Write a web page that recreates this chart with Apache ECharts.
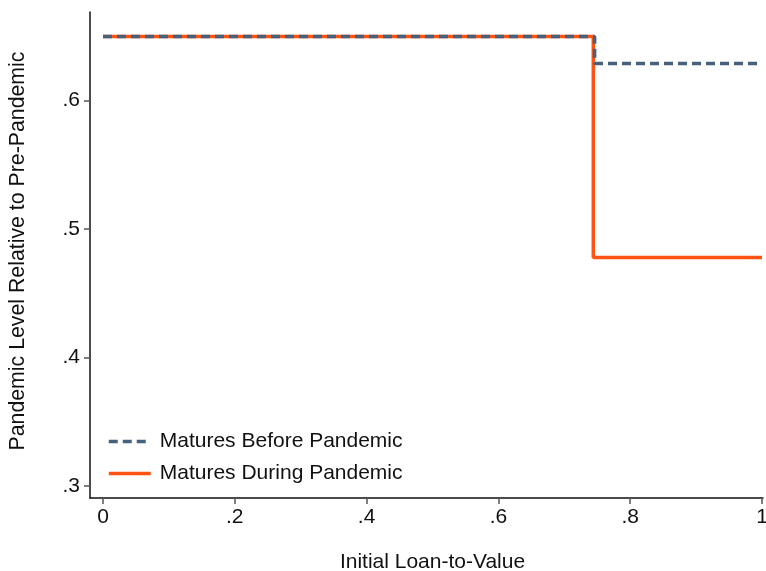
<!DOCTYPE html>
<html>
<head>
<meta charset="utf-8">
<script src="https://cdn.jsdelivr.net/npm/echarts@6/dist/echarts.min.js"></script>
<style>
  html, body { margin: 0; padding: 0; background: #fff; }
  #chart { width: 766px; height: 571px; }
</style>
</head>
<body>
<div id="chart"></div>
<script>
// step positions and levels
const xTicks = [0, 0.2, 0.4, 0.6, 0.8, 1]
const yTicks = [0.3, 0.4, 0.5, 0.6]
const beforeData = [[0, 0.650], [0.746, 0.629], [1, 0.629]]
const duringData = [[0, 0.650], [0.744, 0.478], [1, 0.478]]
const seriesNames = ['Matures Before Pandemic', 'Matures During Pandemic']
const colors = ['#45617B', '#FF5313']

function fmt(v) {
  if (v === 0) return '0'
  if (v === 1) return '1'
  return String(+v.toFixed(2)).replace(/^0\./, '.')
}

const font = '"Liberation Sans", Arial, sans-serif'
const chart = echarts.init(document.getElementById('chart'))
chart.setOption({
  animation: false,
  textStyle: { fontFamily: font },
  grid: { left: 90, right: 3, top: 12, bottom: 73, containLabel: false, outerBoundsMode: 'none' },
  legend: {
    orient: 'vertical',
    left: 107,
    top: 431,
    padding: 0,
    itemWidth: 42,
    itemHeight: 12,
    itemGap: 11,
    data: seriesNames,
    itemStyle: { opacity: 0 },
    lineStyle: { width: 3.5 },
    textStyle: { fontSize: 21, color: '#111', fontFamily: font, padding: [0, 0, 0, 4] }
  },
  xAxis: {
    type: 'value',
    min: -0.0197,
    max: 1.0015,
    name: 'Initial Loan-to-Value',
    nameLocation: 'middle',
    nameGap: 54,
    nameTextStyle: { fontSize: 21, color: '#111', padding: [0, 0, 0, 12] },
    axisLine: { show: true, onZero: false, lineStyle: { color: '#111', width: 1.5 } },
    axisTick: { show: true, length: 6, customValues: xTicks, lineStyle: { color: '#555', width: 1.5 } },
    axisLabel: { customValues: xTicks, formatter: fmt, fontSize: 21, color: '#111', margin: 9 },
    splitLine: { show: false }
  },
  yAxis: {
    type: 'value',
    min: 0.2907,
    max: 0.669,
    name: 'Pandemic Level Relative to Pre-Pandemic',
    nameLocation: 'middle',
    nameGap: 61,
    nameRotate: 90,
    nameTextStyle: { fontSize: 21.3, color: '#111', padding: [0, 0, 0, 8] },
    axisLine: { show: true, onZero: false, lineStyle: { color: '#111', width: 1.5 } },
    axisTick: { show: true, length: 6, customValues: yTicks, lineStyle: { color: '#555', width: 1.5 } },
    axisLabel: { customValues: yTicks, formatter: fmt, fontSize: 21, color: '#111', margin: 10 },
    splitLine: { show: false }
  },
  series: [
    {
      name: seriesNames[0],
      type: 'line',
      step: 'end',
      data: beforeData,
      symbol: 'none',
      z: 3,
      color: colors[0],
      lineStyle: { color: colors[0], width: 3.5, type: [9, 5] }
    },
    {
      name: seriesNames[1],
      type: 'line',
      step: 'end',
      data: duringData,
      symbol: 'none',
      z: 2,
      color: colors[1],
      lineStyle: { color: colors[1], width: 3.5 }
    }
  ]
})
</script>
</body>
</html>
